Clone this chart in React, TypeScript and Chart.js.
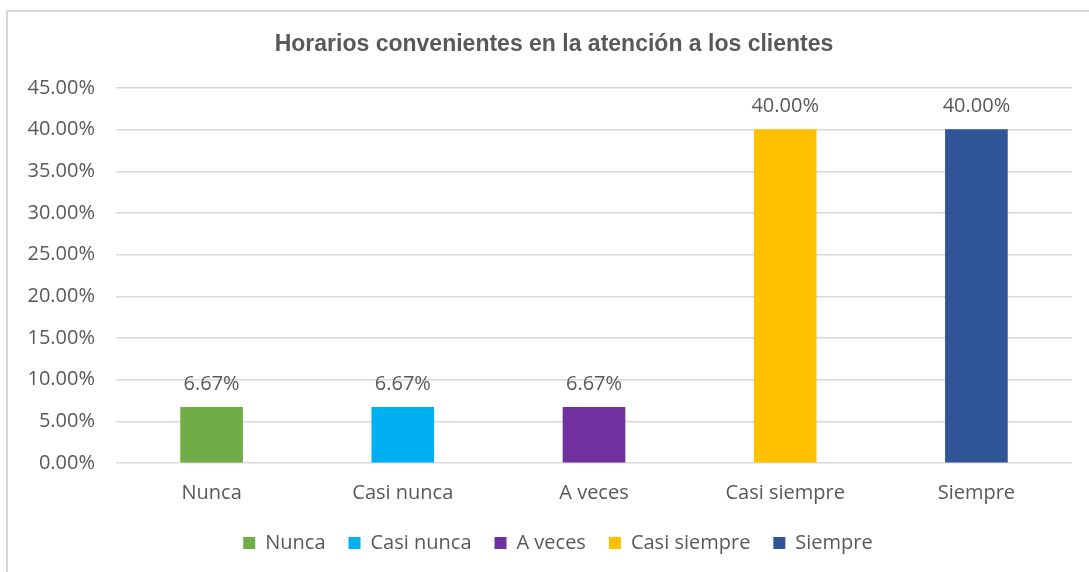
import React, { useEffect, useRef } from "react";
import { Chart, registerables } from "chart.js";

Chart.register(...registerables);

const categories = ["Nunca", "Casi nunca", "A veces", "Casi siempre", "Siempre"];
const values = [6.67, 6.67, 6.67, 40.0, 40.0];
const colors = ["#70AD47", "#00B0F0", "#7030A0", "#FFC000", "#2F5597"];
const titleText = "Horarios convenientes en la atención a los clientes";

const TEXT = "#595959";
const GRID = "#d9d9d9";
const FONT = "'Open Sans', 'Noto Sans', sans-serif";

const dataLabelPlugin = {
  id: "dataLabels",
  afterDatasetsDraw(chart: any) {
    const ctx = chart.ctx;
    const meta = chart.getDatasetMeta(0);
    ctx.save();
    ctx.font = `20px ${FONT}`;
    ctx.fillStyle = TEXT;
    ctx.textAlign = "center";
    ctx.textBaseline = "middle";
    meta.data.forEach((bar: any, i: number) => {
      const v = chart.data.datasets[0].data[i];
      ctx.fillText(v.toFixed(2) + "%", bar.x, bar.y - 23);
    });
    ctx.restore();
  },
};

// shift the title and legend boxes so they are centred on the outer frame
const shiftBoxesPlugin = {
  id: "shiftBoxes",
  afterLayout(chart: any) {
    const t = chart.titleBlock;
    if (t) {
      t.left += 18;
      t.right += 18;
    }
    const l = chart.legend;
    if (l) {
      l.left += 22;
      l.right += 22;
    }
  },
};

export default function App() {
  const ref = useRef<HTMLCanvasElement>(null);
  useEffect(() => {
    if (!ref.current) return;
    const chart = new Chart(ref.current, {
      type: "bar",
      data: {
        labels: categories,
        datasets: [
          {
            data: values,
            backgroundColor: colors,
            barThickness: 62,
          },
        ],
      },
      options: {
        animation: false,
        responsive: false,
        maintainAspectRatio: false,
        layout: { padding: { left: 0, right: 17, top: 0, bottom: 9 } },
        plugins: {
          title: {
            display: true,
            text: titleText,
            color: TEXT,
            font: { family: "'Liberation Sans', Arial, sans-serif", size: 23, weight: "bold" },
            padding: { top: 31, bottom: 29.4 },
          },
          legend: {
            display: true,
            position: "bottom",
            onClick: () => {},
            labels: {
              boxWidth: 12,
              boxHeight: 12,
              padding: 23,
              color: TEXT,
              font: { family: FONT, size: 20 },
              generateLabels: () =>
                categories.map((c, i) => ({
                  text: c,
                  fillStyle: colors[i],
                  strokeStyle: colors[i],
                  lineWidth: 0,
                  hidden: false,
                  index: i,
                  fontColor: TEXT,
                })),
            },
          },
          tooltip: { enabled: false },
        },
        scales: {
          x: {
            grid: { display: false, drawTicks: false },
            border: { display: false },
            ticks: { color: TEXT, font: { family: FONT, size: 20 }, padding: 18 },
            afterFit: (s: any) => {
              s.height = 47;
            },
          },
          y: {
            min: 0,
            max: 45,
            grid: { color: GRID, lineWidth: 1.5, drawTicks: false },
            border: { display: false },
            ticks: {
              stepSize: 5,
              color: TEXT,
              font: { family: FONT, size: 20 },
              padding: 21,
              callback: (v: any) => Number(v).toFixed(2) + "%",
            },
            afterFit: (s: any) => {
              s.width = 116;
            },
          },
        },
      },
      plugins: [dataLabelPlugin, shiftBoxesPlugin],
    });
    return () => chart.destroy();
  }, []);

  return (
    <div
      style={{
        position: "fixed",
        left: 0,
        top: 0,
        width: 1089,
        height: 572,
        overflow: "hidden",
        background: "#fff",
      }}
    >
      <div
        style={{
          position: "absolute",
          left: 6,
          top: 10,
          width: 2000,
          height: 2000,
          border: "2px solid #d9d9d9",
          boxSizing: "border-box",
        }}
      />
      <canvas
        ref={ref}
        width={1089}
        height={572}
        style={{ position: "absolute", left: 0, top: 0, width: 1089, height: 572 }}
      />
    </div>
  );
}
